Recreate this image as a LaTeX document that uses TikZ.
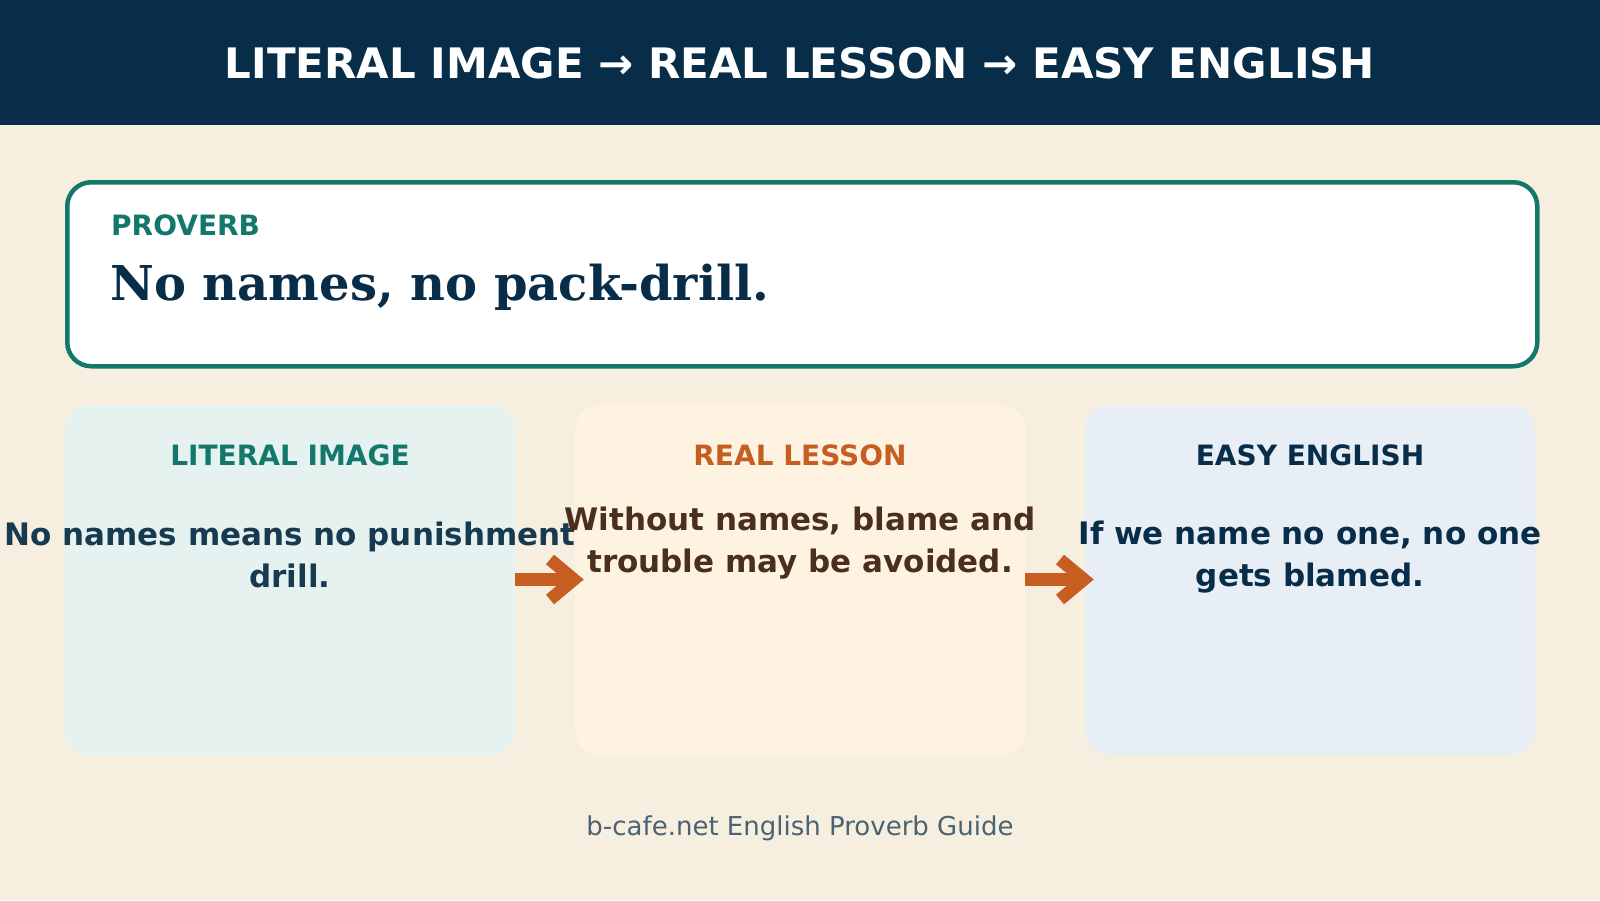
\documentclass[tikz,border=0pt]{standalone}
\usepackage{fontspec}
\setmainfont{DejaVu Sans}
\newfontfamily\serifb{DejaVu Serif}
\definecolor{bgc}{HTML}{F6EFDF}
\definecolor{navy}{HTML}{082D49}
\definecolor{teal}{HTML}{13786C}
\definecolor{orng}{HTML}{C65D21}
\definecolor{fillA}{HTML}{E6F2EF}
\definecolor{fillB}{HTML}{FEF3E0}
\definecolor{fillC}{HTML}{E8EEF6}
\definecolor{bodyA}{HTML}{173A50}
\definecolor{bodyB}{HTML}{4A2F1E}
\definecolor{foot}{HTML}{4B6272}
\tikzset{
  card/.style={fill=#1, rounded corners=24pt, draw=none},
  cardtitle/.style={font=\bfseries\fontsize{28}{33}\selectfont, anchor=base, inner sep=0pt},
  cardbody/.style={font=\bfseries\fontsize{31}{42}\selectfont, align=center, anchor=center, inner sep=0pt},
  flowarrow/.style={draw=orng, line width=12.5pt}
}
\begin{document}
\begin{tikzpicture}[x=1pt,y=-1pt]
\useasboundingbox (0,0) rectangle (1600,900);
\fill[bgc] (0,0) rectangle (1600,900);
\fill[navy] (0,0) rectangle (1600,125);
\node[font=\bfseries\fontsize{42}{50}\selectfont, text=white, anchor=base, inner sep=0pt] (title) at (800,78) {LITERAL IMAGE → REAL LESSON → EASY ENGLISH};

\node[draw=teal, line width=4.5pt, fill=white, rounded corners=24pt, minimum width=1470pt, minimum height=184pt, anchor=north west] (prov) at (65,180) {};
\node[font=\bfseries\fontsize{28}{33}\selectfont, text=teal, anchor=base west, inner sep=0pt] (provlab) at (111,235) {PROVERB};
\node[font=\serifb\bfseries\fontsize{48}{56}\selectfont, text=navy, anchor=base west, inner sep=0pt] (provtxt) at (110,300) {No names, no pack-drill.};

\node[card=fillA, minimum width=450pt, minimum height=350pt, anchor=north west] (boxA) at (65,405) {};
\node[card=fillB, minimum width=450pt, minimum height=350pt, anchor=north west] (boxB) at (575,405) {};
\node[card=fillC, minimum width=450pt, minimum height=350pt, anchor=north west] (boxC) at (1085,405) {};

\node[cardtitle, text=teal] (tA) at (290,465) {LITERAL IMAGE};
\node[cardtitle, text=orng] (tB) at (800,465) {REAL LESSON};
\node[cardtitle, text=navy] (tC) at (1310,465) {EASY ENGLISH};

\node[cardbody, text=bodyA] (bA) at (290,555) {No names means no punishment\\drill.};
\node[cardbody, text=bodyB] (bB) at (800,543) {Without names, blame and\\trouble may be avoided.};
\node[cardbody, text=navy] (bC) at (1310,557.5) {If we name no one, no one\\gets blamed.};

\coordinate (a1s) at (boxA.east |- 0,579.5);
\coordinate (a1e) at (576,579.5);
\draw[flowarrow] (a1s) -- (a1e);
\draw[flowarrow, miter limit=10] (550,559.5) -- (574,579.5) -- (550,599.5);
\coordinate (a2s) at (boxB.east |- 0,579.5);
\coordinate (a2e) at (1086,579.5);
\draw[flowarrow] (a2s) -- (a2e);
\draw[flowarrow, miter limit=10] (1060,559.5) -- (1084,579.5) -- (1060,599.5);

\node[font=\fontsize{26}{31}\selectfont, text=foot, anchor=base, inner sep=0pt] (footer) at (800,835) {b-cafe.net English Proverb Guide};
\end{tikzpicture}
\end{document}
